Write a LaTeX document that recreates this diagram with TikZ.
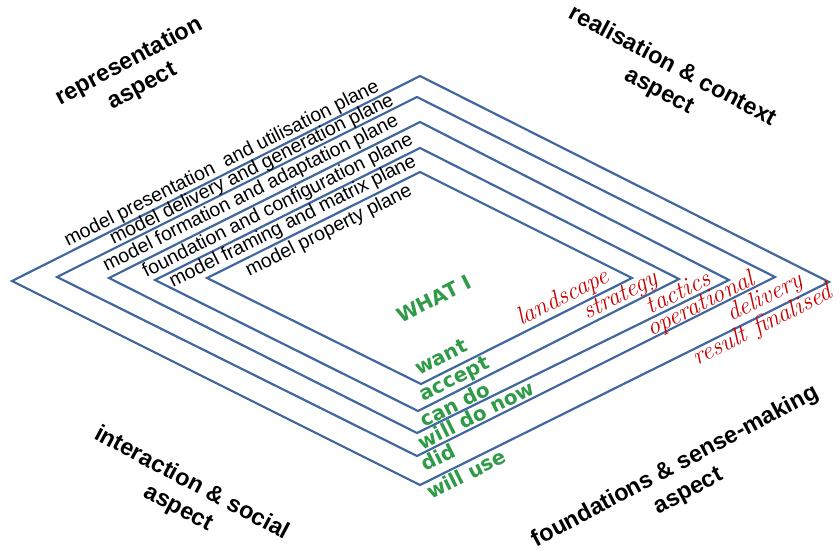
\documentclass[tikz,border=0pt]{standalone}
\usepackage{fontspec}
\usepackage{xcolor}
\usepackage{tikz}
\usetikzlibrary{positioning}
\newfontfamily\arialfont{Liberation Sans}
\newfontfamily\verdfont{DejaVu Sans}
\definecolor{planeblue}{HTML}{41679F}
\definecolor{whatgreen}{HTML}{2F9A48}
\definecolor{phasered}{HTML}{C80000}

\begin{document}
\begin{tikzpicture}[x=1pt, y=-1pt,
    planeline/.style={draw=planeblue, line width=2.2pt},
    aspectlabel/.style={font=\arialfont\bfseries\fontsize{23.5}{28}\selectfont, align=center, inner sep=0pt},
    planelabel/.style={font=\arialfont\fontsize{19.5}{22}\selectfont, rotate=26.6, inner sep=0pt},
    whatlabel/.style={font=\verdfont\bfseries\fontsize{20}{22}\selectfont, text=whatgreen, rotate=26.6, inner sep=0pt},
    phaselabel/.style={font=\itshape\fontsize{25}{26}\selectfont, text=phasered, rotate=26.6, inner sep=0pt}]
    \useasboundingbox (0,0) rectangle (840,551);

    % ── NESTED PLANES ─────────────────────────────────────────────────
    \coordinate (L1) at (12,281);  \coordinate (T1) at (420,76);  \coordinate (R1) at (829,282); \coordinate (B1) at (420,485);
    \coordinate (L2) at (57,277);  \coordinate (T2) at (417,97);  \coordinate (R2) at (775,277); \coordinate (B2) at (417,456);
    \coordinate (L3) at (109,278); \coordinate (T3) at (420,122); \coordinate (R3) at (729,280); \coordinate (B3) at (417,433);
    \coordinate (L4) at (155,280); \coordinate (T4) at (420,148); \coordinate (R4) at (679,279); \coordinate (B4) at (418,411);
    \coordinate (L5) at (207,278); \coordinate (T5) at (420,172); \coordinate (R5) at (632,278); \coordinate (B5) at (421,384);

    \draw[planeline] (L1) -- (T1) -- (R1) -- (B1) -- cycle;
    \draw[planeline] (L2) -- (T2) -- (R2) -- (B2) -- cycle;
    \draw[planeline] (L3) -- (T3) -- (R3) -- (B3) -- cycle;
    \draw[planeline] (L4) -- (T4) -- (R4) -- (B4) -- cycle;
    \draw[planeline] (L5) -- (T5) -- (R5) -- (B5) -- cycle;

    % Plane names (upper left edges)
    \node[planelabel] (pl1) at (222,164) {model presentation\ \ and utilisation plane};
    \node[planelabel] (pl2) at (252,170) {model delivery and generation plane};
    \node[planelabel] (pl3) at (251,193.5) {model formation and adaptation plane};
    \node[planelabel] (pl4) at (278,206) {foundation and configuration plane};
    \node[planelabel] (pl5) at (293,222) {model framing and matrix plane};
    \node[planelabel] (pl6) at (329,231) {model property plane};

    % ── WHAT I ... (lower right edges, near bottom) ───────────────────
    \node[whatlabel] (whati) at (434,299) {WHAT I};
    \node[whatlabel] (want) at (441,357) {want};
    \node[whatlabel] (accept) at (455,380) {accept};
    \node[whatlabel] (cando) at (455,404) {can do};
    \node[whatlabel] (willdo) at (476,415) {will do now};
    \node[whatlabel] (did) at (438,457) {did};
    \node[whatlabel] (willuse) at (466,474) {will use};

    % ── PHASES (near right corners) ───────────────────────────────────
    \node[phaselabel] (landscape) at (563,298) {landscape};
    \node[phaselabel] (strategy) at (621,297) {strategy};
    \node[phaselabel] (tactics) at (678,292) {tactics};
    \node[phaselabel] (operational) at (701,305) {operational};
    \node[phaselabel] (delivery) at (765,298) {delivery};
    \node[phaselabel] (result) at (763,326) {result finalised};

    % ── ASPECTS (corners) ─────────────────────────────────────────────
    \node[aspectlabel, rotate=28] (repr) at (136,74) {representation\\aspect};
    \node[aspectlabel, rotate=-28] (real) at (666,79) {realisation \& context\\aspect};
    \node[aspectlabel, rotate=-28] (inter) at (185,496) {interaction \& social\\aspect};
    \node[aspectlabel, rotate=28] (found) at (682,479) {foundations \& sense-making\\aspect};
\end{tikzpicture}
\end{document}
